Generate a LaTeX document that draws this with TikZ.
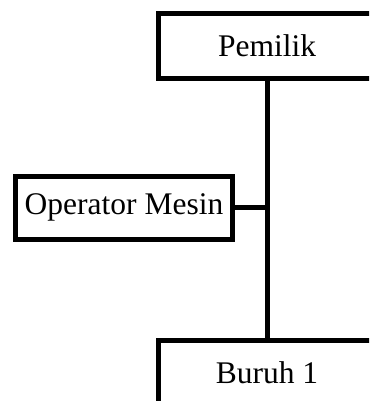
\documentclass[tikz,border=0pt]{standalone}
\usepackage{fontspec}
\setmainfont{Liberation Serif}
\begin{document}
\begin{tikzpicture}[x=1pt,y=-1pt,
  orgbox/.style={draw=black, line width=5pt, fill=white, inner sep=0pt,
    minimum width=218pt, minimum height=65pt, font=\fontsize{31.5}{36}\selectfont},
  link/.style={draw=black, line width=5pt}]
\clip (0,0) rectangle (369,401);
\fill[white] (0,0) rectangle (369,401);
\node[orgbox] (pemilik) at (267,46) {Pemilik};
\node[orgbox, minimum width=217pt, minimum height=62.5pt] (operator) at (124,207.75) {Operator Mesin};
\node[orgbox] (buruh) at (267,372.5) {Buruh 1};
\draw[link] (pemilik.south) -- (buruh.north);
\coordinate (joint) at (operator.east -| pemilik.south);
\draw[link] (operator.east) -- (joint);
\end{tikzpicture}
\end{document}
